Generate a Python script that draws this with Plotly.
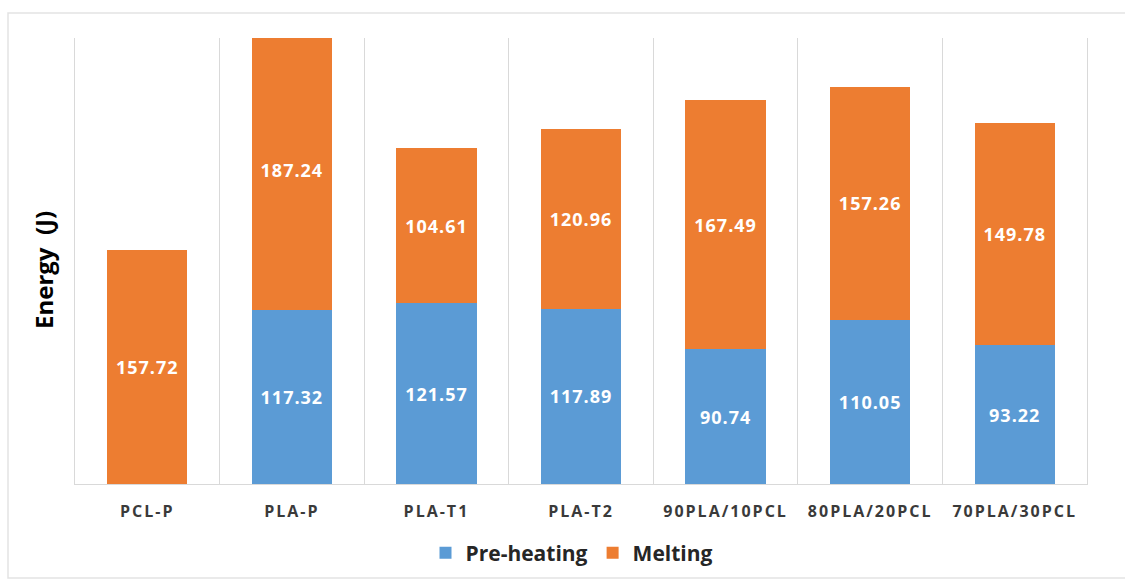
import plotly.graph_objects as go

# Energy needed per sample, split into pre-heating and melting stages (J)
samples = ["PCL-P", "PLA-P", "PLA-T1", "PLA-T2", "90PLA/10PCL", "80PLA/20PCL", "70PLA/30PCL"]
pre_heating = [None, 117.32, 121.57, 117.89, 90.74, 110.05, 93.22]
melting = [157.72, 187.24, 104.61, 120.96, 167.49, 157.26, 149.78]

BLUE = "#5B9BD5"
ORANGE = "#ED7D31"
GRID = "#D9D9D9"
FONT = "Open Sans"

W, H = 1125, 580
L, R, T, B = 75, 38, 38, 96
pw, ph = W - L - R, H - T - B


def px_x(p):
    return (p - L) / pw


def px_y(p):
    return (H - B - p) / ph


def spaced(s, sp):
    return f'<span style="letter-spacing:{sp}px">{s}</span>'


label_font = dict(family=FONT, size=18, color="white", weight="bold")

fig = go.Figure()
for name, vals, color in [("Pre-heating", pre_heating, BLUE), ("Melting", melting, ORANGE)]:
    fig.add_trace(go.Bar(
        x=samples, y=vals, name=name,
        marker=dict(color=color, line=dict(width=0)),
        texttemplate=spaced("%{y:.2f}", 1),
        textposition="inside", insidetextanchor="middle",
        textangle=0, constraintext="none",
        insidetextfont=label_font,
    ))

fig.update_layout(
    width=W, height=H,
    margin=dict(l=L, r=R, t=T, b=B, autoexpand=False),
    paper_bgcolor="white", plot_bgcolor="white",
    barmode="stack", bargap=0.444,
    showlegend=True,
    legend=dict(
        orientation="h", x=px_x(572), xanchor="center",
        y=px_y(553), yanchor="middle",
        font=dict(family=FONT, size=21, color="#262626", weight="bold"),
        itemwidth=30, traceorder="normal",
    ),
    font=dict(family=FONT),
)

fig.update_xaxes(
    type="category",
    tickmode="array", tickvals=samples,
    ticktext=[spaced(s, 2) for s in samples],
    tickfont=dict(family=FONT, size=16, color="#3A3A3A", weight="bold"),
    ticks="", ticklabelstandoff=13,
    tickson="boundaries", showgrid=True, gridcolor=GRID, gridwidth=1,
    showline=True, linecolor=GRID, linewidth=1, mirror=False,
    zeroline=False,
)
fig.update_yaxes(
    range=[0, 300], showticklabels=False, ticks="",
    showgrid=False, zeroline=False,
    showline=True, linecolor=GRID, linewidth=1, mirror=True,
)

# axis title
fig.add_annotation(
    xref="paper", yref="paper", x=px_x(43), y=px_y(270),
    xanchor="center", yanchor="middle", textangle=-90, showarrow=False,
    text="Energy\u00a0\u00a0(J)",
    font=dict(family=FONT, size=24, color="black", weight="bold"),
)

# chart frame
fig.add_shape(
    type="rect", xref="paper", yref="paper", layer="below",
    x0=px_x(8), x1=px_x(1135), y0=px_y(578), y1=px_y(13),
    line=dict(color="#E3E3E3", width=1.5), fillcolor="rgba(0,0,0,0)",
)

fig.write_html("out.html")
